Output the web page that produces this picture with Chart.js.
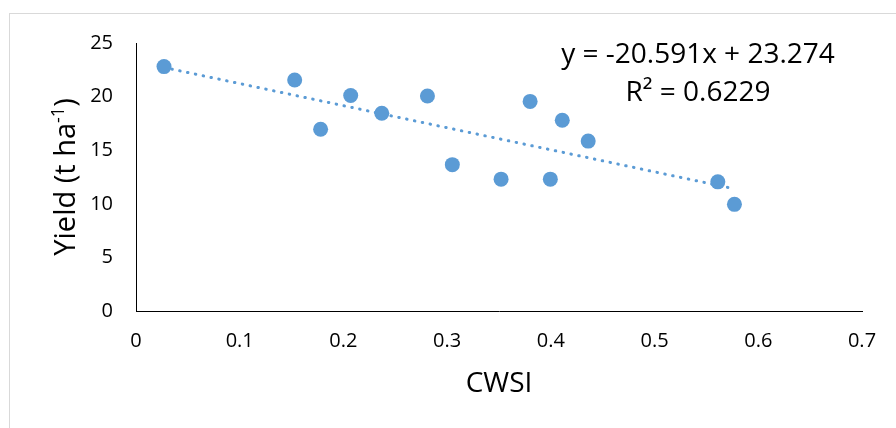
<!DOCTYPE html>
<html>
<head>
<meta charset="utf-8">
<script src="https://cdn.jsdelivr.net/npm/chart.js@4/dist/chart.umd.min.js"></script>
<style>
    html, body { margin: 0; padding: 0; background: #fff; }
    #wrap { width: 896px; height: 428px; position: relative; }
</style>
</head>
<body>
<div id="wrap"><canvas id="cwsiChart" width="896" height="428"></canvas></div>
<script>
// CWSI vs yield
const cwsi = [0.027, 0.153, 0.178, 0.207, 0.237, 0.281, 0.305, 0.352, 0.380, 0.3995, 0.411, 0.436, 0.561, 0.577];
const yieldValues = [22.8, 21.55, 16.95, 20.1, 18.45, 20.05, 13.65, 12.3, 19.55, 12.3, 17.8, 15.85, 12.05, 9.95];

// trendline shown on the chart
const slope = -20.591;
const intercept = 23.274;
const equationLines = ['y = -20.591x + 23.274', 'R\u00b2 = 0.6229'];

const xTickLabels = ['0', '0.1', '0.2', '0.3', '0.4', '0.5', '0.6', '0.7'];
const yTickLabels = ['0', '5', '10', '15', '20', '25'];

const fontFamily = '"Open Sans", "Noto Sans", sans-serif';
const pointColor = '#5B9BD5';

const points = cwsi.map((x, i) => ({ x: x, y: yieldValues[i] }));
const xMin = Math.min(...cwsi);
const xMax = Math.max(...cwsi);
const trendPoints = [xMin, xMax].map(x => ({ x: x, y: slope * x + intercept }));

// light frame + y title with superscript + equation text
const extrasPlugin = {
    id: 'extras',
    beforeDraw(chart) {
        const ctx = chart.ctx;
        ctx.save();
        ctx.fillStyle = '#fff';
        ctx.fillRect(0, 0, chart.width, chart.height);
        ctx.strokeStyle = '#d9d9d9';
        ctx.lineWidth = 1;
        ctx.strokeRect(9.5, 13.5, 1000, 1000);
        ctx.restore();
    },
    afterDraw(chart) {
        const ctx = chart.ctx;
        const area = chart.chartArea;

        // y axis title: Yield (t ha-1)
        ctx.save();
        ctx.fillStyle = '#000';
        ctx.textBaseline = 'alphabetic';
        const big = '29px ' + fontFamily;
        const small = '18px ' + fontFamily;
        ctx.font = big;
        const w1 = ctx.measureText('Yield (t ha').width;
        const w3 = ctx.measureText(')').width;
        ctx.font = small;
        const w2 = ctx.measureText('-1').width;
        const total = w1 + w2 + w3;
        ctx.translate(75, (area.top + area.bottom) / 2);
        ctx.rotate(-Math.PI / 2);
        let x = -total / 2;
        ctx.font = big;
        ctx.fillText('Yield (t ha', x, 0);
        x += w1;
        ctx.font = small;
        ctx.fillText('-1', x, -11);
        x += w2;
        ctx.font = big;
        ctx.fillText(')', x, 0);
        ctx.restore();

        // trendline equation
        ctx.save();
        ctx.fillStyle = '#000';
        ctx.font = '28px ' + fontFamily;
        ctx.textAlign = 'center';
        ctx.textBaseline = 'middle';
        ctx.fillText(equationLines[0], 698, 55);
        ctx.fillText(equationLines[1], 698, 93);
        ctx.restore();
    }
};

const ctx = document.getElementById('cwsiChart').getContext('2d');
const chart = new Chart(ctx, {
    type: 'scatter',
    data: {
        datasets: [{
            label: 'Yield',
            data: points,
            backgroundColor: pointColor,
            borderColor: pointColor,
            borderWidth: 0,
            pointRadius: 7.5,
            order: 1
        }, {
            type: 'line',
            label: 'Linear trend',
            data: trendPoints,
            borderColor: pointColor,
            borderWidth: 3,
            borderDash: [0.5, 7.5],
            borderCapStyle: 'round',
            pointRadius: 0,
            fill: false,
            order: 2
        }]
    },
    options: {
        responsive: false,
        animation: false,
        layout: { padding: { top: 43, right: 34, bottom: 0, left: 0 } },
        plugins: {
            legend: { display: false },
            tooltip: { enabled: false }
        },
        scales: {
            x: {
                type: 'linear',
                min: 0,
                max: 0.7,
                afterFit: scale => { scale.height = 117; },
                grid: { display: false, drawTicks: false },
                border: { display: true, color: '#000', width: 1 },
                ticks: {
                    stepSize: 0.1,
                    padding: 18,
                    color: '#000',
                    font: { family: fontFamily, size: 20 },
                    callback: (v, i) => xTickLabels[i]
                },
                title: {
                    display: true,
                    text: 'CWSI',
                    color: '#000',
                    font: { family: fontFamily, size: 28 },
                    padding: { top: 0, bottom: 27 }
                }
            },
            y: {
                min: 0,
                max: 25,
                afterFit: scale => { scale.width = 136; },
                grid: { display: false, drawTicks: false },
                border: { display: true, color: '#000', width: 1 },
                ticks: {
                    stepSize: 5,
                    padding: 23,
                    color: '#000',
                    font: { family: fontFamily, size: 20 },
                    callback: (v, i) => yTickLabels[i]
                }
            }
        }
    },
    plugins: [extrasPlugin]
});
</script>
</body>
</html>
